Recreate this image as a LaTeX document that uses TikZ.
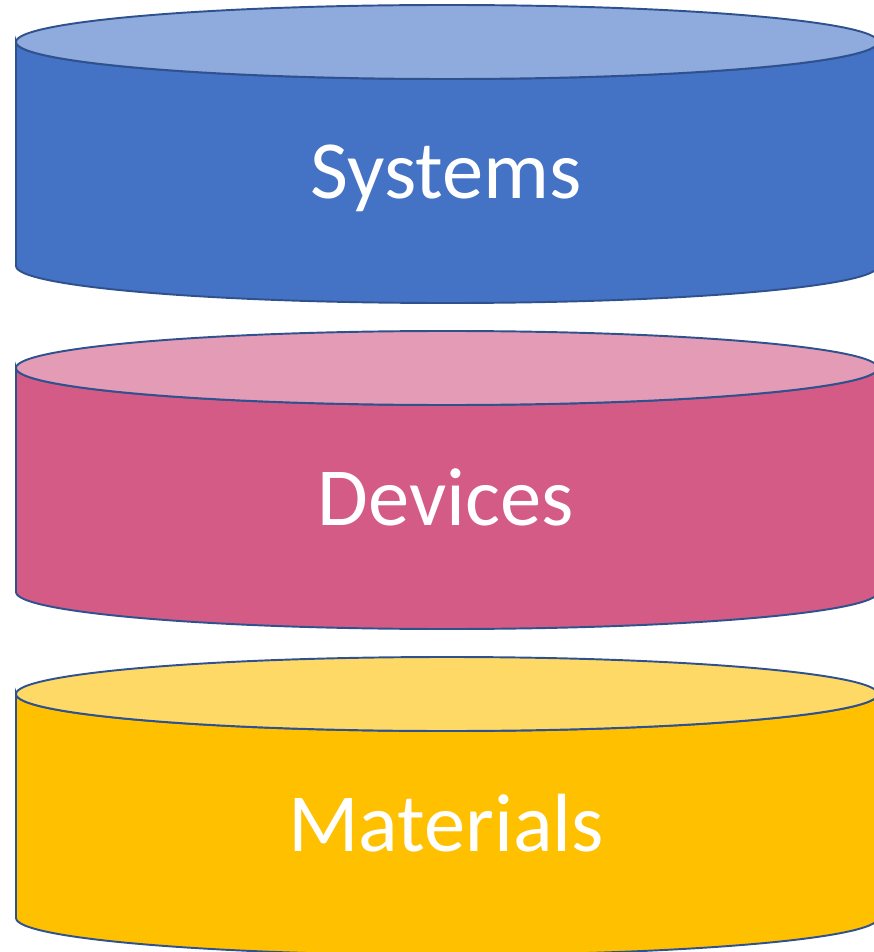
\documentclass[tikz,border=0pt]{standalone}
\usepackage{fontspec}
\setmainfont{Carlito}
\definecolor{sysblue}{HTML}{4472C4}
\definecolor{syslight}{HTML}{8FAADC}
\definecolor{devpink}{HTML}{D45B86}
\definecolor{devlight}{HTML}{E49CB6}
\definecolor{matyellow}{HTML}{FFC000}
\definecolor{matlight}{HTML}{FFD966}
\definecolor{rimblue}{HTML}{2F528F}
\tikzset{
  rim/.style={draw=rimblue, line width=1.1pt},
  layerlabel/.style={text=white, font=\fontsize{47}{54}\selectfont, anchor=base},
}
\begin{document}
\begin{tikzpicture}[x=0.02cm,y=-0.02cm]
		\useasboundingbox (0,0) rectangle (874,952);
		\clip (0,0) rectangle (874,952);
		% one cylinder per layer: body, lid, label
		\foreach \cy/\body/\lid/\name/\txt in {42/sysblue/syslight/sys/Systems, 368/devpink/devlight/dev/Devices, 694/matyellow/matlight/mat/Materials}{
			\filldraw [rim, fill=\body] (16,\cy) -- ++(0,224) arc (180:0:431 and 37) -- ++(0,-224) arc (0:180:431 and 37) -- cycle;
			\filldraw [rim, fill=\lid] (447,\cy) ellipse (431 and 37);
			\node [layerlabel] (\name) at (446,\cy+157) {\txt};
		}
\end{tikzpicture}
\end{document}
